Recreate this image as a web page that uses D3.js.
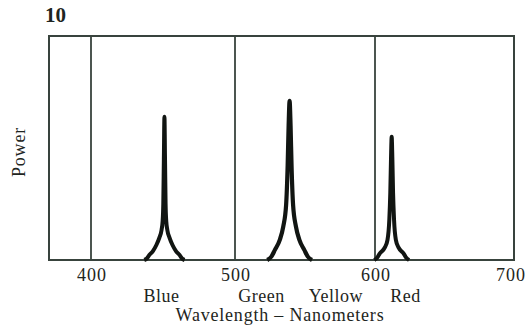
<!DOCTYPE html>
<html>
<head>
<meta charset="utf-8">
<script src="https://cdn.jsdelivr.net/npm/d3@7"></script>
<style>
  body { margin: 0; background: #fff; }
  text { font-family: "Liberation Serif", "DejaVu Serif", serif; fill: #1e2521; }
</style>
</head>
<body>
<div id="chart"></div>
<script>
// wavelength ticks and colour names under the axis
var ticks = [400, 500, 600, 700]
var colorNames = ["Blue", "Green", "Yellow", "Red"]
var colorPos = [449, 519, 572, 622]

// emission peaks (nm, relative power)
var blueWl = [437, 438.5, 440.5, 443, 445.4, 447.5, 449, 449.7, 450.2, 450.6, 451, 451.4, 451.8, 452.3, 453, 454.5, 456.6, 459, 461.5, 463.5, 465]
var bluePw = [0, .005, .022, .04, .067, .1, .134, .17, .25, .45, .64, .45, .25, .17, .134, .1, .067, .04, .022, .005, 0]

var greenWl = [523, 526, 528.5, 532, 534.5, 536.5, 537.6, 538.3, 539, 539.7, 540.4, 541.5, 543.5, 546, 549.5, 552, 555]
var greenPw = [0, .015, .045, .09, .15, .245, .42, .6, .71, .6, .42, .245, .15, .09, .045, .015, 0]

var redWl = [599.5, 601.5, 603.5, 607, 609, 610.3, 611, 611.5, 612, 612.5, 613, 613.7, 615, 617, 620.5, 622.5, 624.5]
var redPw = [0, .01, .03, .055, .09, .18, .3, .45, .55, .45, .3, .18, .09, .055, .03, .01, 0]

var width = 528, height = 330

var svg = d3.select("#chart").append("svg")
    .attr("width", width)
    .attr("height", height)

// the printed axis is hand drawn, so a piecewise scale follows it
var x = d3.scaleLinear()
    .domain([370, 400, 500, 600, 700])
    .range([49, 91, 235, 375, 514])

var y = d3.scaleLinear()
    .domain([0, 1])
    .range([260, 36])

var frameColor = "#38433d"

// frame
svg.append("rect")
    .attr("x", x(370))
    .attr("y", y(1))
    .attr("width", x(700) - x(370))
    .attr("height", y(0) - y(1))
    .attr("fill", "none")
    .attr("stroke", frameColor)
    .attr("stroke-width", 2)

// vertical dividers
svg.selectAll(".divider")
    .data(ticks.slice(0, 3))
    .enter()
    .append("line")
    .attr("class", "divider")
    .attr("x1", d => x(d))
    .attr("x2", d => x(d))
    .attr("y1", y(1))
    .attr("y2", y(0))
    .attr("stroke", frameColor)
    .attr("stroke-width", 1.8)

// peaks
var line = d3.line()
    .x(d => x(d[0]))
    .y(d => y(d[1]))
    .curve(d3.curveMonotoneX)

var peaks = [
    {wl: blueWl, pw: bluePw, w: 4},
    {wl: greenWl, pw: greenPw, w: 4.2},
    {wl: redWl, pw: redPw, w: 4}
]

peaks.forEach(function (p) {
    svg.append("path")
        .datum(d3.zip(p.wl, p.pw))
        .attr("d", line)
        .attr("fill", "none")
        .attr("stroke", "#111512")
        .attr("stroke-width", p.w)
        .attr("stroke-linejoin", "round")
})

// tick labels
svg.selectAll(".tick")
    .data(ticks)
    .enter()
    .append("text")
    .attr("class", "tick")
    .attr("x", d => Math.min(x(d) + 1, 511))
    .attr("y", 281)
    .attr("text-anchor", "middle")
    .style("font-size", "18px")
    .style("letter-spacing", "1px")
    .text(d => d)

// colour names
svg.selectAll(".cname")
    .data(colorNames)
    .enter()
    .append("text")
    .attr("class", "cname")
    .attr("x", (d, i) => x(colorPos[i]))
    .attr("y", 302)
    .attr("text-anchor", "middle")
    .style("font-size", "18px")
    .style("letter-spacing", "0.5px")
    .text(d => d)

svg.append("text")
    .attr("x", 280)
    .attr("y", 321)
    .attr("text-anchor", "middle")
    .style("font-size", "18px")
    .style("letter-spacing", "0.8px")
    .text("Wavelength \u2013 Nanometers")

svg.append("text")
    .attr("transform", "translate(25,152) rotate(-90)")
    .attr("text-anchor", "middle")
    .style("font-size", "18px")
    .style("letter-spacing", "0.8px")
    .text("Power")

svg.append("text")
    .attr("x", 45)
    .attr("y", 22)
    .style("font-size", "21px")
    .style("font-weight", "bold")
    .text("10")
</script>
</body>
</html>
